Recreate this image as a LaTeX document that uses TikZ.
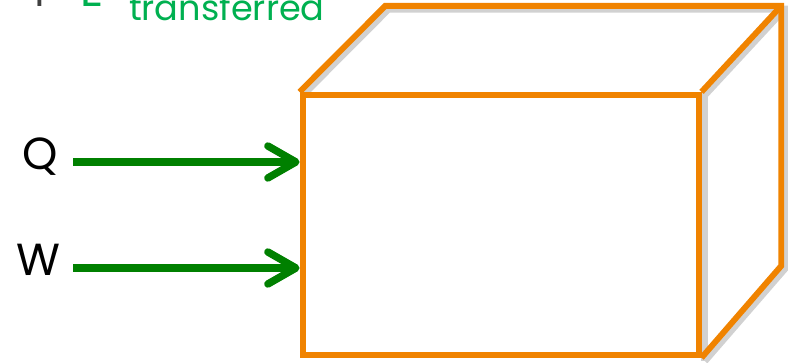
\documentclass[tikz,border=0pt]{standalone}
\usepackage{fontspec}
\setmainfont{Poppins}
\usetikzlibrary{arrows.meta,positioning,backgrounds}

\definecolor{boxorange}{RGB}{240,131,0}
\definecolor{flowgreen}{RGB}{0,128,0}
\definecolor{txtgreen}{RGB}{0,176,80}
\definecolor{txtgray}{RGB}{64,64,64}

\tikzset{
  boxline/.style={draw=boxorange, line width=4.2pt, line join=miter},
  boxshade/.style={draw=black!18, line width=5pt},
  flow/.style={draw=flowgreen, line width=5.3pt,
    -{Straight Barb[length=0.7cm, width=0.8cm, round]}},
  sym/.style={font=\fontsize{32}{36}\selectfont, inner sep=0pt}
}

\begin{document}
\begin{tikzpicture}
    \useasboundingbox (0,0) rectangle (19.8,9.075);
    \clip (0,0) rectangle (19.8,9.075);
    % the system: front face and its depth
    \node[boxline, fill=white, minimum width=9.9cm, minimum height=6.5cm,
      inner sep=0pt, anchor=south west] (front) at (7.49,0.13) {};
    \draw[boxline] (front.north west) -- ++(2.14,2.15) coordinate (backnw)
      -- ++(9.9,0) coordinate (backne) -- ++(0,-6.5) coordinate (backse)
      -- (front.south east);
    \draw[boxline] (front.north east) -- (backne);
    \begin{scope}[on background layer]
      \draw[boxshade] ([shift={(0.08,-0.08)}]front.north west) -- ([shift={(0.08,-0.08)}]backnw)
        -- ([shift={(0.08,-0.08)}]backne) -- ([shift={(0.08,-0.08)}]backse)
        -- ([shift={(0.08,-0.08)}]front.south east);
      \draw[boxshade] ([shift={(0.08,-0.08)}]front.north east) -- ([shift={(0.08,-0.08)}]front.south east);
      \draw[boxshade] ([shift={(0.08,-0.08)}]front.north west) -- ([shift={(0.08,-0.08)}]front.north east);
      \draw[boxshade] ([shift={(0.08,-0.08)}]front.north east) -- ([shift={(0.08,-0.08)}]backne);
    \end{scope}
    % energy in
    \coordinate (qs) at (1.825,5.025);
    \coordinate (ws) at (1.825,2.375);
    \node[sym, anchor=east, left=0.37cm of qs, yshift=0.14cm] (q) {Q};
    \node[sym, anchor=east, left=0.3cm of ws, yshift=0.2cm] (w) {W};
    \draw[flow] (qs) -- (qs -| front.west);
    \draw[flow] (ws) -- (ws -| front.west);
    % cut-off equation at the top
    \node[anchor=base east, inner sep=0pt, text=txtgray,
      font=\fontsize{25}{28}\selectfont] (tailn) at (0.075,8.55) {n};
    \node[sym, anchor=base, text=txtgray] (plus) at (1.0,8.78) {+};
    \node[sym, anchor=base west, text=txtgreen] (en) at (2.0,8.9) {E};
    \node[anchor=base west, inner sep=0pt, text=txtgreen,
      font=\fontsize{25}{28}\selectfont] (sub) at (3.22,8.55) {transferred};
\end{tikzpicture}
\end{document}
